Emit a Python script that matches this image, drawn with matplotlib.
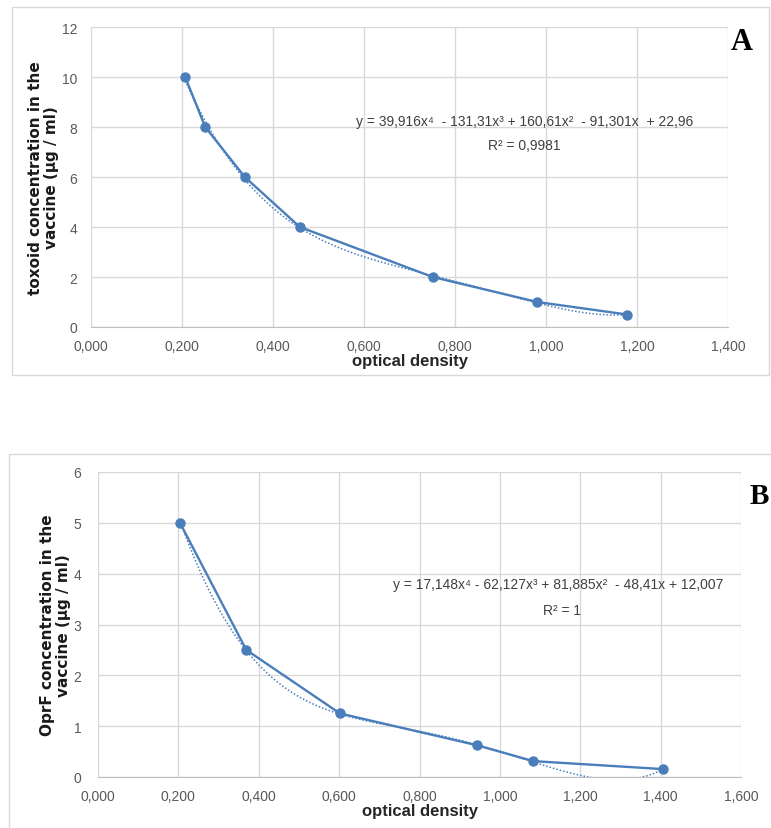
import numpy as np
import matplotlib
matplotlib.use("Agg")
import matplotlib.pyplot as plt
from matplotlib.patches import Rectangle
from matplotlib.ticker import FuncFormatter, MultipleLocator

# chart A: toxoid
od_a = [0.207, 0.251, 0.338, 0.459, 0.751, 0.981, 1.178]
conc_a = [10, 8, 6, 4, 2, 1, 0.5]
coef_a = [39.916, -131.31, 160.61, -91.301, 22.96]
eq_a = "y = 39,916x\u2074  - 131,31x\u00b3 + 160,61x\u00b2  - 91,301x  + 22,96"
r2_a = "R\u00b2 = 0,9981"

# chart B: OprF
od_b = [0.204, 0.369, 0.602, 0.943, 1.083, 1.405]
conc_b = [5, 2.5, 1.25, 0.625, 0.3125, 0.156]
coef_b = [17.148, -62.127, 81.885, -48.41, 12.007]
eq_b = "y = 17,148x\u2074 - 62,127x\u00b3 + 81,885x\u00b2  - 48,41x + 12,007"
r2_b = "R\u00b2 = 1"

W, H = 771, 829
blue = "#4a7ebb"
grid_c = "#d9d9d9"
tick_c = "#595959"
tick_font = ["Liberation Sans", "DejaVu Sans"]
eq_font = ["Liberation Sans Narrow", "Liberation Sans", "DejaVu Sans"]


def fx(px):
    return px / W


def fy(py):
    return 1 - py / H


def comma(v, pos):
    return f"{v:.3f}".replace(".", ",")


def draw(ax, od, conc, coef, xmax, ystep, ylabel, ypad):
    xs = np.linspace(min(od), max(od), 300)
    ax.plot(xs, np.polyval(coef, xs), color=blue, lw=1.1, ls=(0, (1, 1.3)), zorder=3)
    ax.plot(od, conc, color=blue, lw=1.7, marker="o", ms=6.5, zorder=4)
    ax.set_xlim(0, xmax)
    ax.set_ylim(0, 6 * ystep)
    ax.xaxis.set_major_locator(MultipleLocator(0.2))
    ax.yaxis.set_major_locator(MultipleLocator(ystep))
    ax.xaxis.set_major_formatter(FuncFormatter(comma))
    ax.grid(True, color=grid_c, lw=1)
    ax.set_axisbelow(True)
    for s in ["top", "right", "left"]:
        ax.spines[s].set_visible(False)
    ax.spines["bottom"].set_color("#bfbfbf")
    ax.tick_params(length=0, colors=tick_c, labelsize=10)
    ax.tick_params(axis="x", pad=9)
    ax.tick_params(axis="y", pad=ypad)
    for lab in ax.get_xticklabels() + ax.get_yticklabels():
        lab.set_family(tick_font)
    ax.set_xlabel("optical density", fontsize=12, fontweight="bold",
                  family=tick_font, color="#262626", labelpad=0)
    ax.set_ylabel(ylabel, fontsize=11, fontweight="bold", color="#1a1a1a",
                  labelpad=2, linespacing=1.05)


fig = plt.figure(figsize=(W / 100, H / 100), dpi=100)

# outer chart frames
fig.add_artist(Rectangle((fx(12), fy(376)), fx(769) - fx(12), fy(8) - fy(376),
                         transform=fig.transFigure, fill=False, ec=grid_c, lw=1))
fig.add_artist(Rectangle((fx(9), -0.05), 1.0, fy(455) + 0.05,
                         transform=fig.transFigure, fill=False, ec=grid_c, lw=1))

ax1 = fig.add_axes([fx(91), fy(328), fx(728) - fx(91), fy(28) - fy(328)])
draw(ax1, od_a, conc_a, coef_a, 1.4, 2,
     "toxoid concentration in the\nvaccine (\u00b5g / ml)", 10)

ax2 = fig.add_axes([fx(98), fy(778), fx(741) - fx(98), fy(473) - fy(778)])
draw(ax2, od_b, conc_b, coef_b, 1.6, 1,
     "OprF concentration in the\nvaccine (\u00b5g / ml)", 12)

# trendline equations
fig.text(fx(525), fy(122), eq_a, ha="center", va="center", fontsize=10,
         family=eq_font, color="#404040")
fig.text(fx(524), fy(146), r2_a, ha="center", va="center", fontsize=10,
         family=eq_font, color="#404040")
fig.text(fx(558), fy(585), eq_b, ha="center", va="center", fontsize=10,
         family=eq_font, color="#404040")
fig.text(fx(562), fy(611), r2_b, ha="center", va="center", fontsize=10,
         family=eq_font, color="#404040")

# panel letters
fig.text(fx(742), fy(42), "A", ha="center", va="center", fontsize=22,
         fontweight="bold", family="Liberation Serif")
fig.text(fx(750), fy(497), "B", ha="left", va="center", fontsize=21,
         fontweight="bold", family="Liberation Serif")

fig.savefig("out.png", dpi=100)
